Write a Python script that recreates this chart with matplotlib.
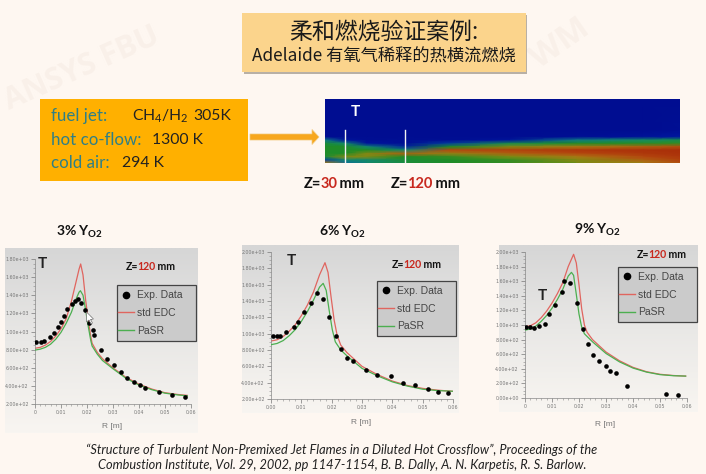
import numpy as np
import matplotlib
matplotlib.use("Agg")
import matplotlib.pyplot as plt
from matplotlib.colors import LinearSegmentedColormap
from matplotlib.lines import Line2D
from matplotlib.patches import Rectangle, Polygon

# ---------- data ----------
exp1_x = [.0003,.0022,.0036,.0059,.0073,.0090,.0099,.0112,.0125,.0141,.0155,.0164,.0176,.0191,.0209,.0209,.0222,.0229,.0254,.0279,.0306,.0330,.0356,.0380,.0405,.0425,.0479,.0528,.0578]
exp1_y = [886,886,897,941,982,1048,1106,1172,1253,1308,1341,1363,1312,1235,1154,1092,1015,963,795,699,633,556,490,442,405,372,328,299,277]
red1_x = [0,.002,.004,.006,.008,.010,.012,.014,.016,.0170,.0176,.0185,.0195,.0205,.0215,.022,.024,.026,.03,.035,.04,.045,.05,.055,.0587]
red1_y = [815,825,850,890,950,1030,1140,1330,1570,1690,1745,1624,1350,1130,945,870,770,700,600,495,420,365,325,305,295]
grn1_x = [0,.002,.004,.006,.008,.010,.012,.014,.016,.0170,.0175,.0185,.0195,.0205,.0215,.022,.024,.026,.03,.035,.04,.045,.05,.055,.0587]
grn1_y = [795,805,825,860,915,990,1090,1210,1370,1435,1450,1400,1240,1060,900,840,750,680,590,485,410,358,320,300,290]

exp2_x = [.0007,.002,.003,.005,.0075,.0088,.011,.0132,.0152,.0173,.019,.0213,.023,.0251,.0269,.0313,.035,.0394,.0435,.0474,.0518,.0551,.0584]
exp2_y = [971,971,971,1020,1077,1142,1269,1375,1502,1420,1204,975,816,706,665,555,494,477,400,371,322,290,278]
red2_x = [0,.002,.004,.006,.008,.010,.012,.014,.016,.0178,.0188,.0198,.0208,.0218,.023,.025,.03,.035,.04,.045,.05,.055,.0598]
red2_y = [910,925,965,1030,1110,1220,1350,1510,1720,1869,1750,1450,1170,980,860,770,600,500,420,365,330,308,295]
grn2_x = [0,.002,.004,.006,.008,.010,.012,.014,.016,.0172,.0182,.0192,.0202,.0212,.023,.025,.03,.035,.04,.045,.05,.055,.0598]
grn2_y = [865,880,915,975,1050,1150,1270,1410,1570,1616,1530,1280,1050,900,800,730,575,485,410,358,320,303,295]

exp3_x = [.0005,.0017,.0032,.0051,.0075,.0089,.0111,.0136,.0143,.0165,.0191,.0214,.0233,.0252,.0274,.0299,.0316,.0336,.0378,.0521,.0568]
exp3_y = [968,968,963,982,1018,1155,1269,1452,1603,1580,1306,941,735,584,502,434,365,347,164,50,37]
red3_x = [0,.002,.004,.006,.008,.010,.012,.014,.016,.018,.019,.020,.021,.022,.023,.025,.03,.035,.04,.045,.05,.055,.0595]
red3_y = [975,990,1030,1100,1190,1300,1430,1580,1800,1968,1850,1550,1220,1000,900,800,630,510,420,360,325,308,300]
grn3_x = [0,.002,.004,.006,.008,.010,.012,.014,.016,.0172,.018,.019,.020,.021,.022,.025,.03,.035,.04,.045,.05,.055,.0595]
grn3_y = [930,945,985,1050,1130,1230,1350,1490,1670,1721,1680,1420,1150,970,880,770,610,495,410,355,320,305,300]

field_cols = [0, .056, .118, .226, .352, .521, .709, .897, 1.0]
field_rows = [0, .487, .593, .646, .698, .751, .804, .857, .910, .963, 1.0]
field_vals = [
    [.03,.03,.03,.03,.03,.03,.03,.03,.03],
    [.03,.03,.03,.03,.03,.03,.03,.03,.05],
    [.03,.03,.03,.03,.03,.03,.05,.08,.12],
    [.35,.10,.05,.05,.05,.10,.35,.42,.45],
    [.48,.40,.10,.05,.20,.45,.50,.52,.55],
    [.50,.50,.40,.15,.50,.70,.80,.85,.88],
    [.50,.50,.50,.40,.90,.92,.95,.97,.98],
    [.50,.50,.70,.85,.75,.85,.90,.95,.97],
    [.48,.70,.70,.50,.55,.68,.80,.90,.95],
    [.20,.40,.40,.48,.50,.55,.70,.85,.92],
    [.80,.30,.40,.48,.50,.55,.68,.80,.90],
]

# ---------- layout helpers (pixel coordinates) ----------
W, H = 706, 474
BG = "#FEF7F1"
LAT = "Lato"
plt.rcParams["font.family"] = ["Noto Sans CJK SC", "DejaVu Sans"]
plt.rcParams["mathtext.fontset"] = "custom"
plt.rcParams["mathtext.rm"] = "Lato"
plt.rcParams["mathtext.bf"] = "Lato:bold"
plt.rcParams["mathtext.default"] = "rm"

fig = plt.figure(figsize=(W / 100, H / 100), dpi=100, facecolor=BG)
page = fig.add_axes([0, 0, 1, 1])
page.set_xlim(0, W)
page.set_ylim(H, 0)
page.axis("off")


def rect_axes(x0, y0, x1, y1, **kw):
    return fig.add_axes([x0 / W, 1 - y1 / H, (x1 - x0) / W, (y1 - y0) / H], **kw)


# watermarks
page.text(6, 103, "ANSYS FBU", fontsize=22, rotation=24, color="#F9F0E9", family="Open Sans",
          fontweight="bold", va="center", ha="left", rotation_mode="anchor", zorder=0)
page.text(534, 62, "WM", fontsize=24, rotation=35, color="#F9F0E9", family="Open Sans",
          fontweight="bold", va="center", ha="left", rotation_mode="anchor", zorder=0)

# title box
page.add_patch(Rectangle((244, 15), 283, 59, fc="#B8B0A6", ec="none", zorder=1))
page.add_patch(Rectangle((242, 13), 284, 59, fc="#FBD48C", ec="none", zorder=2))
page.text(384, 32, "柔和燃烧验证案例:", fontsize=16.5, ha="center", va="center", color="#1a1a1a", zorder=3)
page.text(384, 57, "Adelaide 有氧气稀释的热横流燃烧", fontsize=12.4, ha="center", va="center", color="#1a1a1a", zorder=3)

# conditions box
page.add_patch(Rectangle((40, 99), 208, 82, fc="#FFB000", ec="none", zorder=2))
TEAL = "#2F7F86"
DK = "#222222"
for txt, x, y, c, s in [("fuel jet:", 51, 116, TEAL, 12.2), ("CH$_4$/H$_2$", 132, 116, DK, 11.3), ("305K", 193, 116, DK, 11.3),
                        ("hot co-flow:", 51, 140, TEAL, 12.2), ("1300 K", 152, 140, DK, 11.3),
                        ("cold air:", 51, 163, TEAL, 12.2), ("294 K", 122, 163, DK, 11.3)]:
    page.text(x, y, txt, fontsize=s, color=c, family=LAT, va="center", ha="left", zorder=3)

# arrow
page.arrow(250, 137, 69, 0, width=6, head_width=15, head_length=7, length_includes_head=True,
           fc="#F7A71E", ec="#F2C879", lw=0.5, zorder=3)

# temperature field
field_cmap = LinearSegmentedColormap.from_list(
    "field", [(0, "#000A8C"), (.12, "#0018A0"), (.3, "#0A6E9A"), (.42, "#148C64"), (.5, "#1E8C28"),
              (.68, "#7A8C14"), (.8, "#A87814"), (.9, "#B4480F"), (1, "#A82A08")])
ax_f = rect_axes(325, 99.5, 680, 162.5)
ax_f.pcolormesh(field_cols, field_rows, np.array(field_vals), cmap=field_cmap, vmin=0, vmax=1,
                shading="gouraud", rasterized=True)
ax_f.set_xlim(0, 1)
ax_f.set_ylim(1, 0)
ax_f.axis("off")
for fx in (.057, .226):
    ax_f.plot([fx, fx], [.487, 1], color="#F2F2F2", lw=1)
ax_f.text(.085, .2, "T", color="white", fontsize=11, fontweight="bold", family=LAT,
          ha="center", va="center")


def z_label(x, y, val, size=9):
    t1 = page.text(x, y, "Z=", fontsize=size, fontweight="bold", family=LAT, va="center", ha="left", color="#111111", zorder=5)
    fig.canvas.draw()
    x1 = t1.get_window_extent().x1 - 1
    t2 = page.text(x1, y, val, fontsize=size, fontweight="bold", family=LAT, va="center", ha="left", color="#C8281E", zorder=5)
    x2 = t2.get_window_extent().x1 - 1
    page.text(x2, y, " mm", fontsize=size, fontweight="bold", family=LAT, va="center", ha="left", color="#111111", zorder=5)


z_label(304, 184.5, "30", 10.5)
z_label(391, 184.5, "120", 10.5)


# ---------- panels ----------
def panel(frame, plot, ylim, yt, xlabels, data, title_x, title_y, t_xy, z_xy, leg, xlab_y):
    x0, y0, x1, y1 = frame
    grad = np.linspace(0, 1, 64).reshape(-1, 1)
    cm = LinearSegmentedColormap.from_list("g", ["#D6D6D6", "#E9E8E6", "#F8F5F1"])
    page.imshow(grad, extent=[x0, x1, y1, y0], cmap=cm, aspect="auto", zorder=1)
    page.set_xlim(0, W)
    page.set_ylim(H, 0)
    page.text(title_x, title_y, r"%s Y$_{\mathbf{O2}}$" % data[0], fontsize=10, fontweight="bold", family=LAT,
              ha="center", va="center", color="#111111", zorder=5)
    # legend box
    lx0, ly0, lx1, ly1 = leg
    page.add_patch(Rectangle((lx0, ly0), lx1 - lx0, ly1 - ly0, fc="#CBCBCB", ec="#444444", lw=0.9, zorder=4))

    ax = rect_axes(*plot)
    ax.patch.set_alpha(0)
    ax.set_xlim(0, .06)
    ax.set_ylim(*ylim)
    ax.plot(data[3], data[4], color="#E0655F", lw=0.9, zorder=2)
    ax.plot(data[5], data[6], color="#4CAF50", lw=0.9, zorder=3)
    ax.scatter(data[1], data[2], s=11, color="black", zorder=4, linewidths=0)
    ax.set_xticks(np.arange(0, .061, .01))
    ax.set_xticklabels(xlabels)
    ax.set_yticks(yt)
    ax.set_yticklabels(["%.2fe+%02d" % (v / 10 ** int(np.floor(np.log10(v))), int(np.floor(np.log10(v)))) if v > 0 else "0.00e+00" for v in yt])
    ax.minorticks_on()
    ax.tick_params(labelsize=3.4, labelcolor="#777777", color="#777777", length=3, width=0.5, pad=1.5)
    ax.tick_params(which="minor", length=1.5, width=0.4, color="#888888")
    for tl in ax.get_xticklabels() + ax.get_yticklabels():
        tl.set_family("DejaVu Sans")
    for s in ("top", "right"):
        ax.spines[s].set_visible(False)
    for s in ("left", "bottom"):
        ax.spines[s].set_color("#888888")
        ax.spines[s].set_linewidth(0.5)
    page.text((plot[0] + plot[2]) / 2 - 1, xlab_y, "R [m]", fontsize=6, color="#777777", family="Liberation Sans",
              ha="center", va="center", zorder=5)
    page.text(t_xy[0], t_xy[1], "T", fontsize=11, fontweight="bold", family=LAT, ha="center", va="center",
              color="#222222", zorder=5)
    z_label(z_xy[0], z_xy[1], "120", 7.6)
    handles = [Line2D([], [], ls="", marker="o", ms=4.5, color="black"),
               Line2D([], [], color="#E0655F", lw=1),
               Line2D([], [], color="#4CAF50", lw=1)]
    lg = ax.legend(handles, ["Exp. Data", "std EDC", "PaSR"], loc="center left",
                   bbox_to_anchor=((lx0 + 1) / W, 1 - (ly0 + ly1) / 2 / H), bbox_transform=fig.transFigure,
                   frameon=False, handlelength=1.5, handletextpad=0.3, labelspacing=0.75, borderpad=0, borderaxespad=0,
                   prop={"family": "Liberation Sans", "size": 7.5}, labelcolor="#444444")
    return ax


panel((5, 248, 198, 433), (35, 259, 190.7, 404), (200, 1800), list(range(200, 1801, 200)),
      ["0", "0.01", "0.02", "0.03", "0.04", "0.05", "0.06"],
      ("3%", exp1_x, exp1_y, red1_x, red1_y, grn1_x, grn1_y), 80, 232, (42, 264), (126, 267), (117, 285, 196, 341), 427)
panel((242, 245, 459, 413), (271, 252, 453, 399), (200, 2000), list(range(200, 2001, 200)),
      ["0.00", "0.01", "0.02", "0.03", "0.04", "0.05", "0.06"],
      ("6%", exp2_x, exp2_y, red2_x, red2_y, grn2_x, grn2_y), 343, 232, (291, 261), (392, 265), (377, 281, 456, 336), 422)
panel((499, 245, 698, 412), (525, 252, 687, 398), (0, 2000), list(range(0, 2001, 200)),
      ["0", "0.01", "0.02", "0.03", "0.04", "0.05", "0.06"],
      ("9%", exp3_x, exp3_y, red3_x, red3_y, grn3_x, grn3_y), 598, 230, (542, 296), (637, 255), (618, 267, 697, 322), 425)

# mouse cursor over the first panel
fig.add_artist(Polygon([(86.5, 312), (86.5, 322), (89, 320), (91, 324), (92.5, 323), (90.5, 319.5), (93.5, 319)],
                       closed=True, fc="white", ec="#777777", lw=0.5, transform=page.transData, zorder=10))

# citation
page.text(342, 450, "“Structure of Turbulent Non-Premixed Jet Flames in a Diluted Hot Crossflow”, Proceedings of the",
          fontsize=9.2, style="italic", family=LAT, ha="center", va="center", color="#222222", zorder=5)
page.text(342, 465, "Combustion Institute, Vol. 29, 2002, pp 1147-1154, B. B. Dally, A. N. Karpetis, R. S. Barlow.",
          fontsize=9.2, style="italic", family=LAT, ha="center", va="center", color="#222222", zorder=5)

fig.savefig("out.png", dpi=100, facecolor=BG)
